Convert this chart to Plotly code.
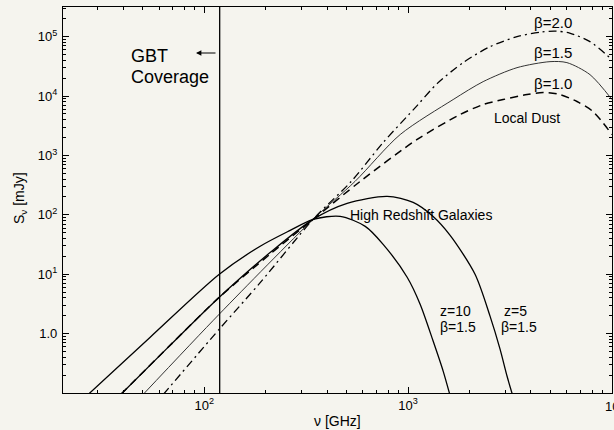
import plotly.graph_objects as go

# ---------------- data ----------------
# Frequencies in GHz, flux densities in mJy
z10_freq = [27, 54.3, 118.5, 188, 264, 342, 464, 616, 754, 989, 1145, 1326, 1485, 1600]
z10_flux = [0.095, 0.87, 10.0, 29.6, 54.8, 84, 94.4, 64, 31.9, 8.9, 3.13, 0.75, 0.234, 0.095]

z5_freq = [39, 68.1, 118.5, 211, 342, 502, 789, 1058, 1326, 1607, 2129, 2522, 2824, 3055, 3260]
z5_flux = [0.095, 0.64, 4.1, 23.4, 84, 156, 205, 162, 94, 45.2, 10, 1.97, 0.548, 0.193, 0.09]

dust_b10_freq = [39, 68.1, 118.5, 211, 342, 582, 1107, 1799, 2333, 2924, 3831, 4590, 5560, 6735, 8070, 10000]
dust_b10_flux = [0.095, 0.64, 4.1, 22, 84, 366, 1860, 4890, 7190, 8730, 10600, 11460, 10600, 8090, 5480, 2250]

dust_b15_freq = [50.2, 118.5, 342, 549, 914, 1662, 2333, 3420, 4965, 6010, 7800, 10000]
dust_b15_flux = [0.095, 2.13, 84, 366, 2250, 8730, 17500, 30100, 38000, 36600, 22950, 8730]

dust_b20_freq = [63, 118.5, 188, 342, 526, 754, 1107, 1387, 1861, 2522, 3420, 4500, 5300, 6200, 7800, 10000]
dust_b20_flux = [0.095, 1.19, 7.2, 84, 366, 1650, 6920, 16200, 36600, 68000, 100000, 120000, 124000, 115000, 82400, 41000]

gbt_freq = 119  # GBT coverage limit (GHz)

x_tickvals = [100, 1000]
x_ticktext = ["10<sup>2</sup>", "10<sup>3</sup>"]
x_edge_label = "10<sup>4</sup>"  # partly cut off at the right edge in the reference
y_tickvals = [1, 10, 100, 1000, 10000, 100000]
y_ticktext = ["1.0", "10<sup>1</sup>", "10<sup>2</sup>", "10<sup>3</sup>", "10<sup>4</sup>", "10<sup>5</sup>"]

# ---------------- figure ----------------
W, H = 614, 430
ML, MR, MT, MB = 63, 2, 7, 37
PW, PH = W - ML - MR, H - MT - MB
FONT = "Liberation Sans, Arial, sans-serif"
BG = "#f5f4ee"


def px(x, y):
    """pixel position -> paper coordinates"""
    return (x - ML) / PW, (H - MB - y) / PH


fig = go.Figure()

def add_line(xs, ys, width=1.3, dash="solid", color="black"):
    fig.add_trace(go.Scatter(x=xs, y=ys, mode="lines",
                             line=dict(color=color, width=width, dash=dash, shape="spline", smoothing=0.8),
                             showlegend=False, hoverinfo="skip"))

add_line(dust_b20_freq, dust_b20_flux, width=1.3, dash="8px,4px,2px,4px")
add_line(dust_b15_freq, dust_b15_flux, width=1.0, color="#333333")
add_line(dust_b10_freq, dust_b10_flux, width=1.5, dash="8px,5px")
add_line(z10_freq, z10_flux, width=1.3)
add_line(z5_freq, z5_flux, width=1.3)

# GBT coverage vertical line
fig.add_trace(go.Scatter(x=[gbt_freq, gbt_freq], y=[0.01, 1e7], mode="lines",
                         line=dict(color="black", width=1.3), showlegend=False, hoverinfo="skip"))

axis_common = dict(
    type="log", showgrid=False, zeroline=False, showline=True, linecolor="black", linewidth=1.3,
    mirror="ticks", ticks="inside", ticklen=6, tickwidth=1, tickcolor="black",
    tickfont=dict(family=FONT, size=13, color="black"),
    minor=dict(ticks="inside", ticklen=3, tickwidth=1, tickcolor="black", dtick="D1", showgrid=False),
)

fig.update_layout(
    width=W, height=H,
    margin=dict(l=ML, r=MR, t=MT, b=MB),
    paper_bgcolor=BG, plot_bgcolor=BG,
    font=dict(family=FONT, color="black"),
    xaxis=dict(range=[1.307, 4.0], tickvals=x_tickvals + [10000], ticktext=x_ticktext + [""], **axis_common),
    yaxis=dict(range=[-1, 5.5], tickvals=y_tickvals, ticktext=y_ticktext, ticklabelstandoff=2, **axis_common),
)

def label(text, x, y, size=14, anchor="left"):
    xp, yp = px(x, y)
    fig.add_annotation(text=text, x=xp, y=yp, xref="paper", yref="paper", showarrow=False,
                       xanchor=anchor, yanchor="middle", font=dict(family=FONT, size=size, color="black"))

label("GBT", 129, 56, size=18)
label("Coverage", 129, 77, size=18)
label("β=2.0", 532, 22, size=15)
label("β=1.5", 532, 53, size=15)
label("β=1.0", 532, 83, size=15)
label("Local Dust", 492, 118, size=14)
label("High Redshift Galaxies", 348, 215, size=14)
label("z=10", 438, 311, size=14)
label("β=1.5", 438, 327, size=14)
label("z=5", 502, 311, size=14)
label("β=1.5", 499, 327, size=14)
label(x_edge_label, 603, 406, size=13)

# arrow pointing left toward lower frequencies
ax_, ay_ = px(196, 53)
fig.add_annotation(x=ax_, y=ay_, xref="paper", yref="paper", text="", showarrow=True,
                   ax=21, ay=0, axref="pixel", ayref="pixel", arrowhead=2, arrowsize=0.9,
                   arrowwidth=1.2, arrowcolor="black")

# axis titles
xp, yp = px(337, 421)
fig.add_annotation(text="ν [GHz]", x=xp, y=yp, xref="paper", yref="paper", showarrow=False,
                   xanchor="center", yanchor="middle", font=dict(family=FONT, size=14))
xp, yp = px(20, 198)
fig.add_annotation(text="S<sub>ν</sub> [mJy]", x=xp, y=yp, xref="paper", yref="paper", showarrow=False,
                   textangle=-90, xanchor="center", yanchor="middle", font=dict(family=FONT, size=14))

fig.write_html("out.html", config={"displayModeBar": False},
               post_script="document.body.style.margin='0px';document.body.style.overflow='hidden';")
